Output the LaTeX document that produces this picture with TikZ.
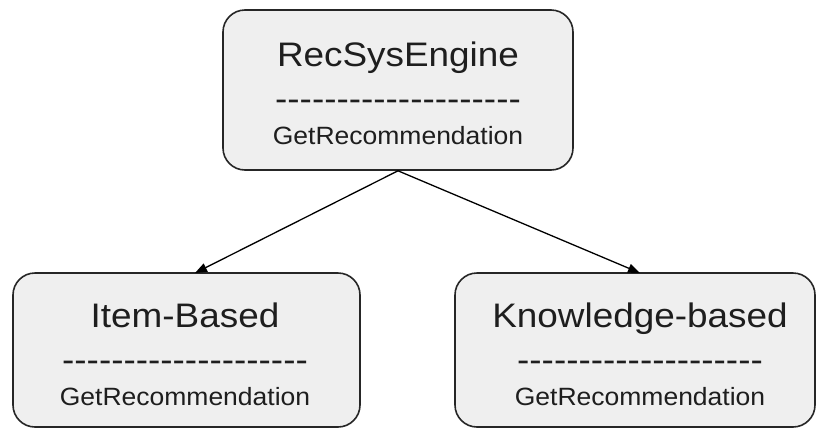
\documentclass[tikz,border=0pt]{standalone}
\usepackage{fontspec}
\setmainfont{Liberation Sans}
\usetikzlibrary{arrows.meta}

\definecolor{boxfill}{HTML}{EFEFEF}
\definecolor{boxline}{HTML}{262626}
\definecolor{ink}{HTML}{1E1E1E}

% a row of separate hyphens (the kern keeps "--" from becoming a dash ligature)
\newcommand\hy{-\kern0pt}
\newcommand\hyfive{\hy\hy\hy\hy\hy}
\newcommand\hyrow{\hyfive\hyfive\hyfive\hyfive}

\newcommand\classname[1]{\scalebox{1.085}[1]{\fontsize{34}{40}\selectfont #1}}
\newcommand\opname[1]{\scalebox{1.06}[1]{\fontsize{25}{30}\selectfont #1}}

\begin{document}
\begin{tikzpicture}[x=1pt,y=-1pt,
  classbox/.style={rectangle, rounded corners=22pt, draw=boxline,
                   line width=1.6pt, fill=boxfill, inner sep=0pt},
  txt/.style={anchor=base, inner sep=0pt, text=ink},
  link/.style={draw=black, line width=1.3pt,
               -{Triangle[length=12pt,width=9pt]}}]
\useasboundingbox (0,0) rectangle (817,429);

% class boxes
\node[classbox, minimum width=350pt, minimum height=160pt] (engine) at (398,90) {};
\node[classbox, minimum width=347pt, minimum height=154pt] (item) at (186.5,350) {};
\node[classbox, minimum width=360pt, minimum height=154pt] (know) at (635,350) {};

% RecSysEngine
\node[txt] (engine-name) at (398,66)  {\classname{RecSysEngine}};
\node[txt] (engine-rule) at (398,110) {\classname{\hyrow}};
\node[txt] (engine-op)   at (398,144) {\opname{GetRecommendation}};

% Item-Based
\node[txt] (item-name) at (185,327) {\classname{Item-Based}};
\node[txt] (item-rule) at (185,371) {\classname{\hyrow}};
\node[txt] (item-op)   at (185,405) {\opname{GetRecommendation}};

% Knowledge-based
\node[txt] (know-name) at (640,327) {\classname{Knowledge-based}};
\node[txt] (know-rule) at (640,371) {\classname{\hyrow}};
\node[txt] (know-op)   at (640,405) {\opname{GetRecommendation}};

% arrow ends on the top edges of the lower boxes
\coordinate (item-in) at (195,273);
\coordinate (know-in) at (640,273);

\draw[link] (engine.south) -- (item-in);
\draw[link] (engine.south) -- (know-in);
\end{tikzpicture}
\end{document}
